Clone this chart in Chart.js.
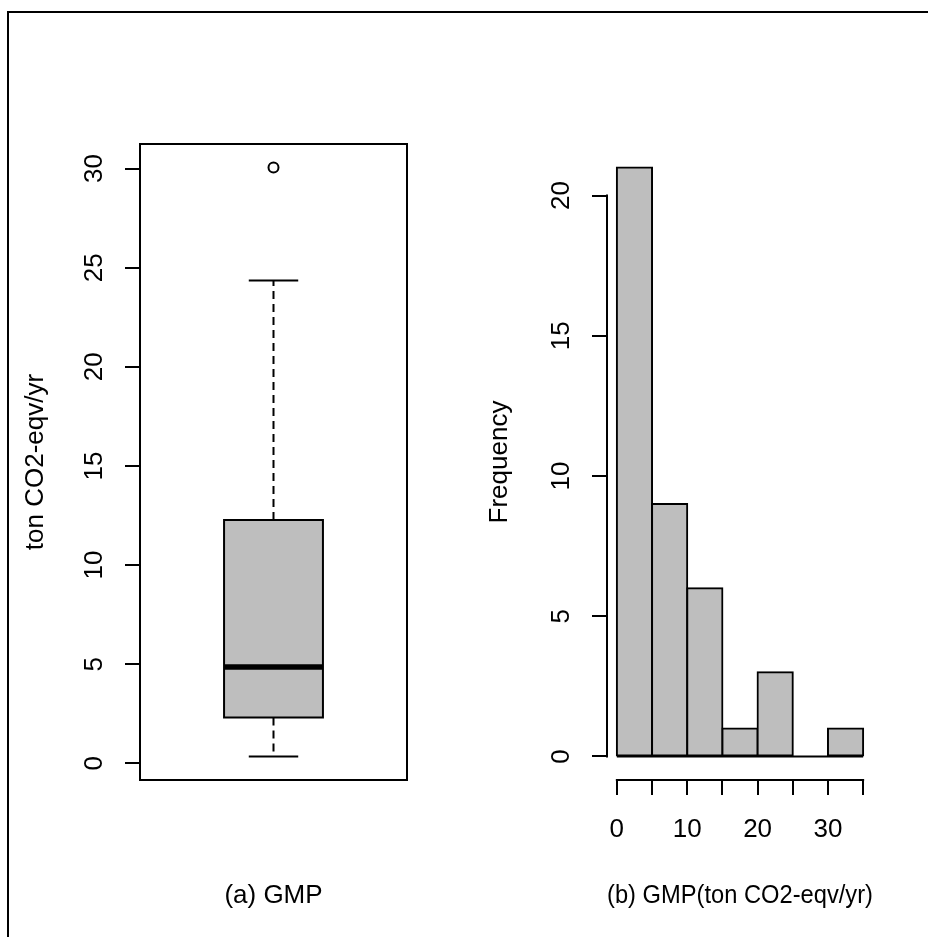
<!DOCTYPE html>
<html>
<head>
<meta charset="utf-8">
<script src="https://cdn.jsdelivr.net/npm/chart.js@4.4.1/dist/chart.umd.min.js"></script>
<style>
  html, body { margin: 0; padding: 0; background: #fff; }
  body { width: 928px; height: 937px; position: relative; overflow: hidden; }
  canvas { position: absolute; top: 0; }
  #boxChart { left: 0; }
  #histChart { left: 464px; }
  #frame { position: absolute; left: 7px; top: 11px; width: 940px; height: 940px; border: 2px solid #000; pointer-events: none; }
</style>
</head>
<body>
<canvas id="boxChart" width="464" height="937"></canvas>
<canvas id="histChart" width="464" height="937"></canvas>
<div id="frame"></div>
<script>
// Values
const boxLabel = ["GMP"];
const boxFiveNum = [0.35, 2.31, 4.86, 12.27, 24.35]; // low whisker, Q1, median, Q3, high whisker
const boxOutliers = [30.05];
const boxYTicks = [0, 5, 10, 15, 20, 25, 30];

const histBinEdges = [0, 5, 10, 15, 20, 25, 30, 35];
const histCounts = [21, 9, 6, 1, 3, 0, 1];
const histYTicks = [0, 5, 10, 15, 20];
const histXTicks = [0, 5, 10, 15, 20, 25, 30, 35];
const histXTickLabels = ["0", "", "10", "", "20", "", "30", ""];

Chart.defaults.font.family = "'Liberation Sans', Arial, Helvetica, sans-serif";
Chart.defaults.font.size = 26;
Chart.defaults.color = "#000";

const FILL = "#bebebe";
const INK = "#000";

// R style axis range: data range padded by 4% each side
function rRange(lo, hi) {
    const pad = (hi - lo) * 0.04;
    return [lo - pad, hi + pad];
}

// force a scale's thickness so the plot regions line up with the reference
function fixedSize(size) {
    return (scale) => {
        if (scale.isHorizontal()) scale.height = size;
        else scale.width = size;
    };
}

function setTicks(values) {
    return (scale) => {
        scale.ticks = values.map(v => ({ value: v }));
    };
}

const tickGrid = {
    display: true,
    drawOnChartArea: false,
    drawTicks: true,
    tickLength: 15,
    tickColor: INK,
    tickWidth: 2,
    lineWidth: 2,
    offset: false
};

const sideTicks = {
    minRotation: 90,
    maxRotation: 90,
    crossAlign: "center",
    padding: 16,
    autoSkip: false
};

const frameOnly = (position, size) => ({
    type: "linear",
    position: position,
    afterFit: fixedSize(size),
    ticks: { display: false },
    grid: { display: false },
    border: { display: true, color: INK, width: 2 }
});

// 1. Boxplot (a)
function initBoxChart() {
    const [wLo, q1, med, q3, wHi] = boxFiveNum;
    const CENTER = 1, BOX_HALF = 0.2, STAPLE_HALF = 0.1;
    const yr = rRange(Math.min(wLo, ...boxOutliers), Math.max(wHi, ...boxOutliers));
    const xr = rRange(CENTER - 0.5, CENTER + 0.5);
    const seg = (x0, y0, x1, y1) => [{ x: x0, y: y0 }, { x: x1, y: y1 }];
    const plain = { pointRadius: 0, borderColor: INK, fill: false };

    new Chart(document.getElementById("boxChart"), {
        type: "line",
        data: {
            labels: boxLabel,
            datasets: [
                {
                    label: "outliers",
                    data: boxOutliers.map(v => ({ x: CENTER, y: v })),
                    showLine: false,
                    pointRadius: 5,
                    pointBorderWidth: 2,
                    pointBorderColor: INK,
                    pointBackgroundColor: "rgba(0,0,0,0)"
                },
                { ...plain, label: "median", data: seg(CENTER - BOX_HALF, med, CENTER + BOX_HALF, med), borderWidth: 5.5 },
                {
                    ...plain,
                    label: "box",
                    data: [
                        { x: CENTER - BOX_HALF, y: q1 }, { x: CENTER + BOX_HALF, y: q1 },
                        { x: CENTER + BOX_HALF, y: q3 }, { x: CENTER - BOX_HALF, y: q3 },
                        { x: CENTER - BOX_HALF, y: q1 }
                    ],
                    borderWidth: 2,
                    borderCapStyle: "square",
                    borderJoinStyle: "miter"
                },
                { ...plain, label: "upper whisker", data: seg(CENTER, q3, CENTER, wHi), borderWidth: 2, borderDash: [8, 5] },
                { ...plain, label: "lower whisker", data: seg(CENTER, q1, CENTER, wLo), borderWidth: 2, borderDash: [8, 5] },
                { ...plain, label: "upper staple", data: seg(CENTER - STAPLE_HALF, wHi, CENTER + STAPLE_HALF, wHi), borderWidth: 2 },
                { ...plain, label: "lower staple", data: seg(CENTER - STAPLE_HALF, wLo, CENTER + STAPLE_HALF, wLo), borderWidth: 2 },
                {
                    label: "box fill",
                    data: seg(CENTER - BOX_HALF, q3, CENTER + BOX_HALF, q3),
                    fill: { value: q1 },
                    backgroundColor: FILL,
                    borderWidth: 0,
                    pointRadius: 0
                }
            ]
        },
        options: {
            responsive: false,
            animation: false,
            devicePixelRatio: 1,
            events: [],
            layout: { padding: { top: 144, right: 57, left: 0, bottom: 0 } },
            plugins: { legend: { display: false }, tooltip: { enabled: false } },
            scales: {
                x: {
                    ...frameOnly("bottom", 157),
                    min: xr[0], max: xr[1],
                    title: { display: true, text: "(a) GMP", padding: { top: 0, bottom: 26 } }
                },
                xTop: { ...frameOnly("top", 0), min: xr[0], max: xr[1] },
                y: {
                    type: "linear",
                    position: "left",
                    min: yr[0], max: yr[1],
                    afterFit: fixedSize(140),
                    afterBuildTicks: setTicks(boxYTicks),
                    ticks: sideTicks,
                    grid: tickGrid,
                    border: { display: true, color: INK, width: 2 },
                    title: { display: true, text: "ton CO2-eqv/yr", padding: { top: 20, bottom: 0 } }
                },
                yRight: { ...frameOnly("right", 0), min: yr[0], max: yr[1] }
            }
        }
    });
}

// R draws the axis line only between the first and last tick
const rAxisLines = {
    id: "rAxisLines",
    afterDraw(chart) {
        const { ctx, chartArea, scales: { x, y } } = chart;
        const xt = x.ticks, yt = y.ticks;
        ctx.save();
        ctx.strokeStyle = INK;
        ctx.lineWidth = 2;
        ctx.beginPath();
        ctx.moveTo(x.getPixelForValue(xt[0].value) - 1, chartArea.bottom);
        ctx.lineTo(x.getPixelForValue(xt[xt.length - 1].value) + 1, chartArea.bottom);
        ctx.moveTo(chartArea.left, y.getPixelForValue(yt[0].value) + 1);
        ctx.lineTo(chartArea.left, y.getPixelForValue(yt[yt.length - 1].value) - 1);
        ctx.stroke();
        ctx.restore();
    }
};

// 2. Histogram (b)
function initHistChart() {
    const yr = rRange(0, Math.max(...histCounts));
    const xr = rRange(histBinEdges[0], histBinEdges[histBinEdges.length - 1]);

    new Chart(document.getElementById("histChart"), {
        type: "bar",
        data: {
            datasets: [
                {
                    type: "line",
                    label: "base",
                    data: [
                        { x: histBinEdges[0], y: 0 },
                        { x: histBinEdges[histBinEdges.length - 1], y: 0 }
                    ],
                    borderColor: INK,
                    borderWidth: 2,
                    pointRadius: 0
                },
                {
                    label: "Frequency",
                    data: histCounts.map((c, i) => ({ x: (histBinEdges[i] + histBinEdges[i + 1]) / 2, y: c })),
                    backgroundColor: FILL,
                    borderColor: INK,
                    borderWidth: 2,
                    borderSkipped: false,
                    inflateAmount: 1,
                    barPercentage: 1,
                    categoryPercentage: 1
                }
            ]
        },
        options: {
            responsive: false,
            animation: false,
            devicePixelRatio: 1,
            events: [],
            layout: { padding: { top: 144, right: 55, left: 0, bottom: 0 } },
            plugins: { legend: { display: false }, tooltip: { enabled: false } },
            scales: {
                x: {
                    type: "linear",
                    position: "bottom",
                    offset: false,
                    min: xr[0], max: xr[1],
                    afterFit: fixedSize(157),
                    afterBuildTicks: setTicks(histXTicks),
                    ticks: {
                        autoSkip: false, minRotation: 0, maxRotation: 0, padding: 19,
                        callback: (v, i) => histXTickLabels[i]
                    },
                    grid: tickGrid,
                    border: { display: false },
                    title: { display: true, text: "(b) GMP(ton CO2-eqv/yr)", padding: { top: 0, bottom: 26 } }
                },
                y: {
                    type: "linear",
                    position: "left",
                    min: yr[0], max: yr[1],
                    afterFit: fixedSize(143),
                    afterBuildTicks: setTicks(histYTicks),
                    ticks: sideTicks,
                    grid: tickGrid,
                    border: { display: false },
                    title: { display: true, text: "Frequency", padding: { top: 20, bottom: 0 } }
                }
            }
        },
        plugins: [rAxisLines]
    });
}

initBoxChart();
initHistChart();
</script>
</body>
</html>
